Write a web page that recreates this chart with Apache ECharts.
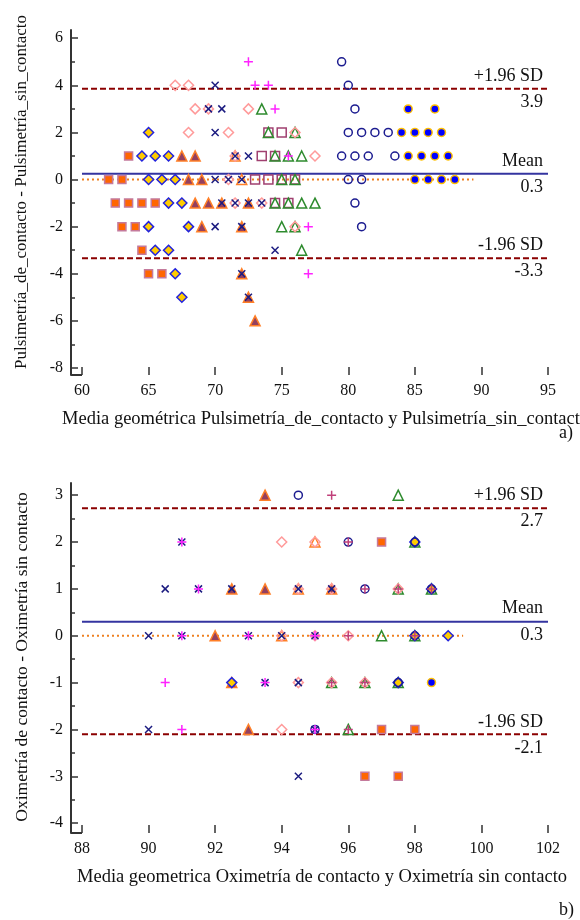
<!DOCTYPE html>
<html>
<head>
<meta charset="utf-8">
<script src="https://cdn.jsdelivr.net/npm/echarts@6/dist/echarts.min.js"></script>
<style>
html, body { margin: 0; padding: 0; background: #fff; }
#chart { width: 580px; height: 920px; }
</style>
</head>
<body>
<div id="chart"></div>
<script>
// ---- a) Pulsimetría ----
var aXTicks = [60, 65, 70, 75, 80, 85, 90, 95];
var aYTicks = [-8, -6, -4, -2, 0, 2, 4, 6];
var aYMinor = [-7, -5, -3, -1, 1, 3, 5];
var aLimits = [3.85, 0.25, -3.34];   // +1.96 SD, media, -1.96 SD
var aLimitText = ['3.9', '0.3', '-3.3'];
var aZeroSpan = [60, 89.4];

var aSquares = [[63.5,1],[62,0],[63,0],[62.5,-1],[63.5,-1],[64.5,-1],[65.5,-1],[63,-2],[64,-2],[64.5,-3],[65,-4],[66,-4]];
var aDiamonds = [[65,2],[64.5,1],[65.5,1],[66.5,1],[65,0],[66,0],[67,0],[66.5,-1],[67.5,-1],[65,-2],[68,-2],[65.5,-3],[66.5,-3],[67,-4],[67.5,-5]];
var aTriangles = [[67.5,1],[68.5,1],[68,0],[69,0],[68.5,-1],[69.5,-1],[70.5,-1],[72.5,-1],[69,-2],[72,-2],[72,-4],[72.5,-5],[73,-6]];
var aOpenTri = [[71.5,1],[72,0]];
var aCrosses = [[70,4],[69.5,3],[70.5,3],[70,2],[71.5,1],[72.5,1],[70,0],[71,0],[72,0],[70.5,-1],[71.5,-1],[72.5,-1],[73.5,-1],[70,-2],[72,-2],[74.5,-3],[72,-4],[72.5,-5]];
var aPinkDiamonds = [[67,4],[68,4],[68.5,3],[69.5,3],[72.5,3],[68,2],[71,2],[76,2],[71.5,1],[77.5,1],[71,0],[71.5,-1],[73.5,-1],[76,-2]];
var aMauveSquares = [[74,2],[75,2],[73.5,1],[74.5,1],[73,0],[74,0],[75,0],[76,0],[74.5,-1],[75.5,-1]];
var aGreenTri = [[73.5,3],[74,2],[76,2],[74.5,1],[75.5,1],[76.5,1],[75,0],[76,0],[74.5,-1],[75.5,-1],[76.5,-1],[77.5,-1],[75,-2],[76,-2],[76.5,-3]];
var aPlus = [[72.5,5],[73,4],[74,4],[74.5,3],[75.5,1],[77,-2],[77,-4]];
var aCircles = [[79.5,5],[80,4],[80.5,3],[80,2],[81,2],[82,2],[83,2],[79.5,1],[80.5,1],[81.5,1],[83.5,1],[80,0],[81,0],[80.5,-1],[81,-2]];
var aDots = [[84.5,3],[86.5,3],[84,2],[85,2],[86,2],[87,2],[84.5,1],[85.5,1],[86.5,1],[87.5,1],[85,0],[86,0],[87,0],[88,0]];

// ---- b) Oximetría ----
var bXTicks = [88, 90, 92, 94, 96, 98, 100, 102];
var bYTicks = [-4, -3, -2, -1, 0, 1, 2, 3];
var bYMinor = [-3.5, -2.5, -1.5, -0.5, 0.5, 1.5, 2.5];
var bLimits = [2.72, 0.3, -2.1];
var bLimitText = ['2.7', '0.3', '-2.1'];
var bZeroSpan = [88, 99.45];

var bSquares = [[97,2],[97,-2],[98,-2],[96.5,-3],[97.5,-3]];
var bDiamonds = [[98,2],[98.5,1],[98,0],[99,0],[92.5,-1],[97.5,-1]];
var bTriangles = [[93.5,3],[92.5,1],[93.5,1],[95.5,1],[92,0],[92.5,-1],[93,-2]];
var bOpenTri = [[95,2],[94.5,1],[94,0]];
var bCrosses = [[91,2],[90.5,1],[91.5,1],[92.5,1],[94.5,1],[95.5,1],[90,0],[91,0],[93,0],[94,0],[95,0],[93.5,-1],[94.5,-1],[90,-2],[95,-2],[94.5,-3]];
var bPinkDiamonds = [[94,2],[95,2],[94.5,1],[95.5,1],[97.5,1],[94,0],[95,0],[96,0],[94.5,-1],[95.5,-1],[96.5,-1],[94,-2]];
var bGreenTri = [[97.5,3],[98,2],[97.5,1],[98.5,1],[97,0],[98,0],[95.5,-1],[96.5,-1],[97.5,-1],[96,-2]];
var bPlus = [[91,2],[91.5,1],[91,0],[93,0],[95,0],[90.5,-1],[93.5,-1],[91,-2],[95,-2]];
var bPlusDark = [[95.5,3],[96,2],[96.5,1],[97.5,1],[98.5,1],[96,0],[98,0],[95.5,-1],[96.5,-1],[96,-2]];
var bCircles = [[94.5,3],[96,2],[98,2],[96.5,1],[98.5,1],[98,0],[97.5,-1],[95,-2]];
var bDots = [[98.5,-1]];

var SERIF = '"Liberation Serif", "DejaVu Serif", serif';
var CROSS = 'path://M0,0L10,10M10,0L0,10';
var PLUS = 'path://M5,0L5,10M0,5L10,5';

// estilos de marcador
var st = {
    sq:    { symbol: 'rect', size: 8, fill: '#FF6600', stroke: '#C47A9C', bw: 1.5 },
    dia:   { symbol: 'diamond', size: 10, fill: '#FFCC00', stroke: '#2222DD', bw: 1.5 },
    tri:   { symbol: 'triangle', size: 10, fill: '#94405F', stroke: '#FF7F27', bw: 1.5 },
    otri:  { symbol: 'triangle', size: 10, fill: 'none', stroke: '#FF7F27', bw: 1.5 },
    cross: { symbol: CROSS, size: 7, fill: 'none', stroke: '#1C1C80', bw: 1.5 },
    pdia:  { symbol: 'diamond', size: 10, fill: 'none', stroke: '#FF9A9A', bw: 1.5 },
    psq:   { symbol: 'rect', size: 9, fill: 'none', stroke: '#A04070', bw: 1.5 },
    gtri:  { symbol: 'triangle', size: 10, fill: 'none', stroke: '#2E8B2E', bw: 1.5 },
    plus:  { symbol: PLUS, size: 9, fill: 'none', stroke: '#FF22FF', bw: 1.5 },
    plus2: { symbol: PLUS, size: 9, fill: 'none', stroke: '#C0407A', bw: 1.5 },
    circ:  { symbol: 'circle', size: 8, fill: 'none', stroke: '#1C1C90', bw: 1.5 },
    dot:   { symbol: 'circle', size: 8, fill: '#0000FF', stroke: '#FFC000', bw: 1.5 }
};

function sc(data, k, xi, yi) {
    var s = st[k];
    return {
        type: 'scatter', xAxisIndex: xi, yAxisIndex: yi, data: data,
        symbol: s.symbol, symbolSize: s.size, silent: true, z: 5,
        itemStyle: { color: s.fill, borderColor: s.stroke, borderWidth: s.bw, opacity: 1 }
    };
}

function seg(pts, xi, yi, color, type, width) {
    return {
        type: 'line', xAxisIndex: xi, yAxisIndex: yi, data: pts,
        symbol: 'none', silent: true, z: 2, clip: false,
        lineStyle: { color: color, type: type, width: width }
    };
}

function hline(x0, x1, y, xi, yi, color, type, width) {
    return seg([[x0, y], [x1, y]], xi, yi, color, type, width);
}

function axisX(idx, min, max, ticks) {
    return {
        type: 'value', gridIndex: idx, min: min, max: max, position: 'bottom',
        axisLine: { show: false, onZero: false },
        axisTick: { show: true, inside: true, length: 8, customValues: ticks, lineStyle: { color: '#333', width: 1.5 } },
        axisLabel: { customValues: ticks, color: '#111', fontFamily: SERIF, fontSize: 16, margin: 8 },
        splitLine: { show: false }
    };
}

function axisY(idx, min, max, ticks) {
    return {
        type: 'value', gridIndex: idx, min: min, max: max, position: 'left',
        axisLine: { show: true, onZero: false, lineStyle: { color: '#333', width: 2 } },
        axisTick: { show: true, inside: true, length: 7, customValues: ticks, lineStyle: { color: '#333', width: 1.5 } },
        axisLabel: { customValues: ticks, color: '#111', fontFamily: SERIF, fontSize: 16, margin: 8 },
        splitLine: { show: false }
    };
}

function minorY(idx, min, max, ticks) {
    return {
        type: 'value', gridIndex: idx, min: min, max: max, position: 'left', offset: 0,
        axisLine: { show: false, onZero: false },
        axisTick: { show: true, inside: true, length: 4, customValues: ticks, lineStyle: { color: '#333', width: 1.5 } },
        axisLabel: { show: false },
        splitLine: { show: false }
    };
}

var aRange = [59.174, 95, -8.3, 6.35];
var bRange = [87.67, 102, -4.21, 3.26];

var limitColors = ['#8B0000', '#3434A0', '#8B0000'];
var limitTypes = [[6, 3], 'solid', [6, 3]];

var series = [];
for (var i = 0; i < 3; i++) {
    series.push(hline(aXTicks[0], aRange[1], aLimits[i], 0, 0, limitColors[i], limitTypes[i], 2));
    series.push(hline(bXTicks[0], bRange[1], bLimits[i], 1, 2, limitColors[i], limitTypes[i], 2));
}
series.push(hline(aZeroSpan[0], aZeroSpan[1], 0, 0, 0, '#EE8020', [2, 3], 2));
series.push(hline(bZeroSpan[0], bZeroSpan[1], 0, 1, 2, '#EE8020', [2, 3], 2));
// trozo de eje x entre el eje y y el primer tick
series.push(hline(aRange[0], aXTicks[0], aRange[2], 0, 0, '#333', 'solid', 2));
series.push(hline(bRange[0], bXTicks[0], bRange[2], 1, 2, '#333', 'solid', 2));

series.push(sc(aSquares, 'sq', 0, 0), sc(aMauveSquares, 'psq', 0, 0), sc(aGreenTri, 'gtri', 0, 0),
    sc(aTriangles, 'tri', 0, 0), sc(aOpenTri, 'otri', 0, 0), sc(aDiamonds, 'dia', 0, 0),
    sc(aPinkDiamonds, 'pdia', 0, 0), sc(aCircles, 'circ', 0, 0), sc(aDots, 'dot', 0, 0),
    sc(aCrosses, 'cross', 0, 0), sc(aPlus, 'plus', 0, 0));

series.push(sc(bSquares, 'sq', 1, 2), sc(bGreenTri, 'gtri', 1, 2), sc(bTriangles, 'tri', 1, 2),
    sc(bOpenTri, 'otri', 1, 2), sc(bDiamonds, 'dia', 1, 2), sc(bPinkDiamonds, 'pdia', 1, 2),
    sc(bCircles, 'circ', 1, 2), sc(bDots, 'dot', 1, 2), sc(bCrosses, 'cross', 1, 2),
    sc(bPlus, 'plus', 1, 2), sc(bPlusDark, 'plus2', 1, 2));

function txt(x, y, s, align, size, rot) {
    return {
        type: 'text', x: x, y: y, rotation: rot || 0, silent: true,
        style: { text: s, fill: '#111', font: (size || 18) + 'px ' + SERIF,
                 textAlign: align || 'right', textVerticalAlign: 'middle' }
    };
}

var R = 543;
var graphics = [
    txt(R, 76, '+1.96 SD'), txt(R, 102, aLimitText[0]),
    txt(R, 161, 'Mean'), txt(R, 187, aLimitText[1]),
    txt(R, 245, '-1.96 SD'), txt(R, 271, aLimitText[2]),
    txt(R, 495, '+1.96 SD'), txt(R, 521, bLimitText[0]),
    txt(R, 608, 'Mean'), txt(R, 635, bLimitText[1]),
    txt(R, 722, '-1.96 SD'), txt(R, 748, bLimitText[2]),
    txt(62, 419, 'Media geométrica Pulsimetría_de_contacto y Pulsimetría_sin_contacto', 'left', 18.5),
    txt(322, 877, 'Media geometrica Oximetría de contacto y Oximetría sin contacto', 'center', 18.5),
    txt(22, 192, 'Pulsimetría_de_contacto - Pulsimetría_sin_contacto', 'center', 17, Math.PI / 2),
    txt(22, 657, 'Oximetría de contacto - Oximetría sin contacto', 'center', 17.5, Math.PI / 2),
    txt(559, 433, 'a)', 'left', 18),
    txt(559, 910, 'b)', 'left', 18)
];

var myChart = echarts.init(document.getElementById('chart'));
myChart.setOption({
    animation: false,
    backgroundColor: '#fff',
    grid: [
        { left: 71, right: 32, top: 30, bottom: 545 },
        { left: 71, right: 32, top: 483, bottom: 87 }
    ],
    xAxis: [
        axisX(0, aRange[0], aRange[1], aXTicks),
        axisX(1, bRange[0], bRange[1], bXTicks)
    ],
    yAxis: [
        axisY(0, aRange[2], aRange[3], aYTicks),
        minorY(0, aRange[2], aRange[3], aYMinor),
        axisY(1, bRange[2], bRange[3], bYTicks),
        minorY(1, bRange[2], bRange[3], bYMinor)
    ],
    series: series,
    graphic: graphics
});
</script>
</body>
</html>
